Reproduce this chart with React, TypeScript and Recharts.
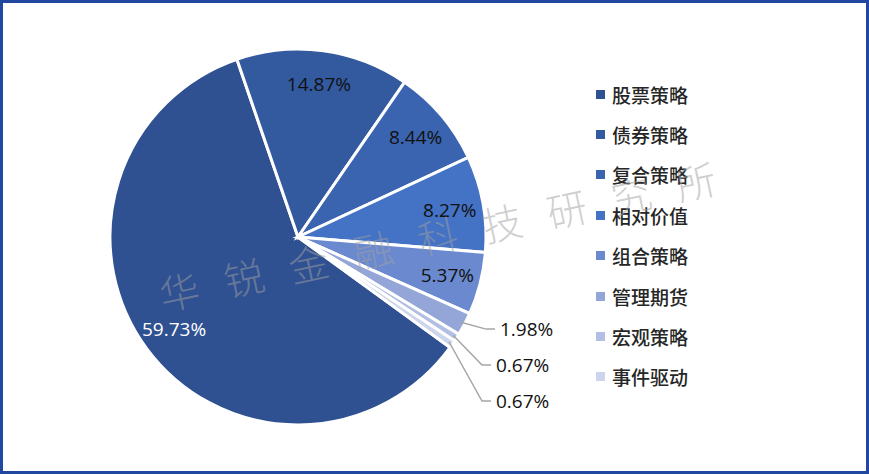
import { PieChart, Pie, Cell, Legend } from "recharts";

const names = ["股票策略", "债券策略", "复合策略", "相对价值", "组合策略", "管理期货", "宏观策略", "事件驱动"];
const shares = [59.73, 14.87, 8.44, 8.27, 5.37, 1.98, 0.67, 0.67];
const colors = ["#2f5192", "#33599f", "#3a64b0", "#4472c4", "#6a89cf", "#94a6d8", "#b2bee3", "#ccd5ec"];
const watermark = "华锐金融科技研究所";

const data = names.map((n, i) => ({ name: n, value: shares[i] }));

const RAD = Math.PI / 180;
const FIRST_OUTSIDE = 5;
const labelFont = "'Open Sans', 'Liberation Sans', sans-serif";

function renderLabel(p: any) {
  const { cx, cy, midAngle, outerRadius, index, value } = p;
  const text = `${value.toFixed(2)}%`;
  if (index < FIRST_OUTSIDE) {
    const r = outerRadius * 0.82;
    const x = cx + r * Math.cos(-midAngle * RAD);
    const y = cy + r * Math.sin(-midAngle * RAD);
    return (
      <text x={x} y={y} textAnchor="middle" dominantBaseline="central" fill={index === 0 ? "#ffffff" : "#111111"}
        fontSize={19} fontFamily={labelFont}>
        {text}
      </text>
    );
  }
  const rank = index - FIRST_OUTSIDE;
  const sx = cx + (outerRadius - 4) * Math.cos(-midAngle * RAD);
  const sy = cy + (outerRadius - 4) * Math.sin(-midAngle * RAD);
  const ly = cy + outerRadius * 0.49 + rank * 36;
  const ex = cx + outerRadius + (rank === 0 ? 0 : -4);
  return (
    <g>
      <polyline points={`${sx},${sy} ${ex},${ly} ${ex + 9},${ly}`} fill="none" stroke="#a6a6a6" strokeWidth={1.5} />
      <text x={ex + 14} y={ly} dominantBaseline="central" fill="#111111" fontSize={19} fontFamily={labelFont}>
        {text}
      </text>
    </g>
  );
}

function LegendBox() {
  return (
    <div style={{ fontFamily: "'Noto Sans CJK SC', sans-serif", fontSize: 19, fontWeight: 500, color: "#262626" }}>
      {names.map((n, i) => (
        <div key={n} style={{ display: "flex", alignItems: "center", height: 40.4 }}>
          <span style={{ width: 9, height: 9, background: colors[i], display: "inline-block", marginRight: 7 }} />
          {n}
        </div>
      ))}
    </div>
  );
}

export default function App() {
  return (
    <div style={{ position: "fixed", left: 0, top: 0, width: 869, height: 474, background: "#fff", boxSizing: "border-box", border: "3px solid #2148a0", overflow: "hidden" }}>
      <div style={{ position: "absolute", left: -3, top: -3 }}>
        <PieChart width={869} height={474} margin={{ top: 0, right: 0, bottom: 0, left: 0 }}>
          <Pie data={data} dataKey="value" nameKey="name" cx={298} cy={237} outerRadius={188}
            startAngle={-36} endAngle={-396} stroke="#ffffff" strokeWidth={3}
            label={renderLabel} labelLine={false} isAnimationActive={false}>
            {data.map((d, i) => (
              <Cell key={d.name} fill={colors[i]} />
            ))}
          </Pie>
          <Legend layout="vertical" align="right" verticalAlign="top" content={<LegendBox />}
            wrapperStyle={{ left: 596, top: 74, width: 150 }} />
        </PieChart>
      </div>
      <div style={{ position: "absolute", left: 150, top: 200, width: 600, transform: "rotate(-12deg)", transformOrigin: "center",
        fontFamily: "'Noto Sans CJK SC', serif", fontWeight: 300, fontSize: 40, letterSpacing: 26, color: "rgba(160,160,160,0.5)", pointerEvents: "none", whiteSpace: "nowrap" }}>
        {watermark}
      </div>
    </div>
  );
}
